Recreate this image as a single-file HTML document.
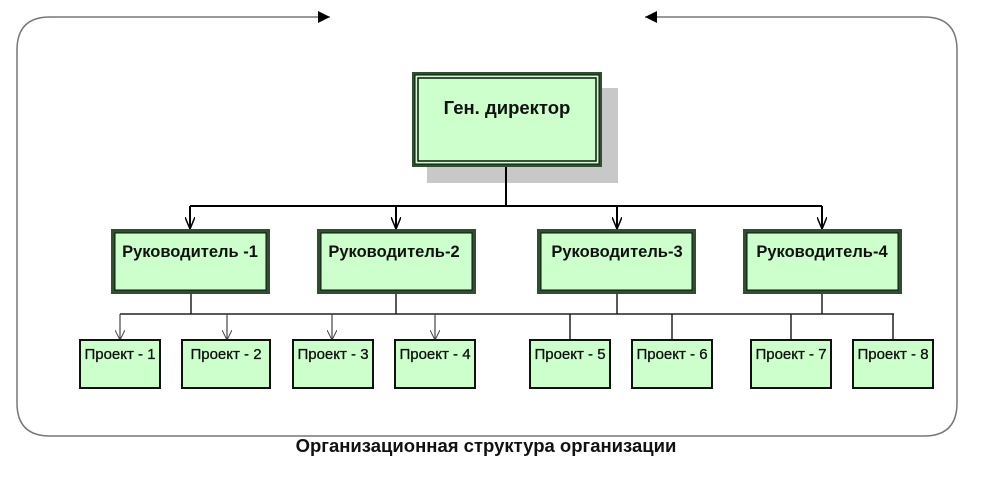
<!DOCTYPE html>
<html><head><meta charset="utf-8"><style>
html,body{margin:0;padding:0;background:#fff;}
svg{display:block;}
text{font-family:"Liberation Sans",sans-serif;font-weight:bold;fill:#111;}
</style></head><body>
<svg width="1000" height="479" viewBox="0 0 1000 479" xmlns="http://www.w3.org/2000/svg">
<defs>
<marker id="oa" markerWidth="14" markerHeight="10" refX="12" refY="5" orient="auto" markerUnits="userSpaceOnUse"><path d="M0,0 L12,5 L0,10" fill="none" stroke="#000" stroke-width="1.5"/></marker>
<marker id="oa2" markerWidth="12" markerHeight="10" refX="10" refY="5" orient="auto" markerUnits="userSpaceOnUse"><path d="M0,0 L10,5 L0,10" fill="none" stroke="#444" stroke-width="1"/></marker>
</defs>
<path d="M330,17 L50,17 Q17,17 17,50 L17,403 Q17,436 50,436 L924,436 Q957,436 957,403 L957,50 Q957,17 924,17 L645,17" fill="none" stroke="#777" stroke-width="1.5"/>
<path d="M318,11 L330,17 L318,23 z" fill="#000"/>
<path d="M657,11 L645,17 L657,23 z" fill="#000"/>
<rect x="427" y="88" width="191" height="95" fill="#c8c8c8"/>
<rect x="412" y="72" width="190" height="95" fill="#2f4f2f"/>
<rect x="415" y="75" width="184" height="89" fill="#ccffcc" stroke="#111" stroke-width="1"/>
<rect x="418" y="78" width="178" height="83" fill="#ccffcc" stroke="#111" stroke-width="1.5"/>
<text x="507" y="114" font-size="18.5" text-anchor="middle">Ген. директор</text>
<g stroke="#000" stroke-width="2" fill="none">
<path d="M506,167 L506,206"/>
<path d="M190,206 L822,206"/>
<path d="M190,206 L190,229" marker-end="url(#oa)"/>
<path d="M396,206 L396,229" marker-end="url(#oa)"/>
<path d="M617,206 L617,229" marker-end="url(#oa)"/>
<path d="M822,206 L822,229" marker-end="url(#oa)"/>
</g>
<g>
<rect x="111" y="229" width="159" height="65" fill="#2f4f2f"/><rect x="115" y="233" width="151" height="57" fill="#ccffcc" stroke="#111"/>
<rect x="317" y="229" width="159" height="65" fill="#2f4f2f"/><rect x="321" y="233" width="151" height="57" fill="#ccffcc" stroke="#111"/>
<rect x="537" y="229" width="159" height="65" fill="#2f4f2f"/><rect x="541" y="233" width="151" height="57" fill="#ccffcc" stroke="#111"/>
<rect x="743" y="229" width="159" height="65" fill="#2f4f2f"/><rect x="747" y="233" width="151" height="57" fill="#ccffcc" stroke="#111"/>
</g>
<g font-size="16.5">
<text x="190" y="257" text-anchor="middle">Руководитель -1</text>
<text x="394" y="257" text-anchor="middle">Руководитель-2</text>
<text x="617" y="257" text-anchor="middle">Руководитель-3</text>
<text x="822" y="257" text-anchor="middle">Руководитель-4</text>
</g>
<g stroke="#222" stroke-width="1.5" fill="none">
<path d="M191,294 L191,314 M396,294 L396,314 M617,294 L617,314 M822,294 L822,314"/>
<path d="M120,314 L894,314"/>
<path d="M570,314 L570,340 M672,314 L672,340 M791,314 L791,340 M893,314 L893,340"/>
</g>
<g stroke="#444" stroke-width="1.2" fill="none">
<path d="M120,314 L120,340" marker-end="url(#oa2)"/>
<path d="M227,314 L227,340" marker-end="url(#oa2)"/>
<path d="M332,314 L332,340" marker-end="url(#oa2)"/>
<path d="M435,314 L435,340" marker-end="url(#oa2)"/>
</g>
<g fill="#ccffcc" stroke="#111" stroke-width="2">
<rect x="80" y="340" width="80" height="48"/>
<rect x="182" y="340" width="88" height="48"/>
<rect x="293" y="340" width="80" height="48"/>
<rect x="395" y="340" width="80" height="48"/>
<rect x="530" y="340" width="80" height="48"/>
<rect x="632" y="340" width="80" height="48"/>
<rect x="751" y="340" width="80" height="48"/>
<rect x="853" y="340" width="80" height="48"/>
</g>
<g font-size="15" style="font-weight:normal" stroke="#111" stroke-width="0.3">
<text x="120" y="359" text-anchor="middle" style="font-weight:normal">Проект - 1</text>
<text x="226" y="359" text-anchor="middle" style="font-weight:normal">Проект - 2</text>
<text x="333" y="359" text-anchor="middle" style="font-weight:normal">Проект - 3</text>
<text x="435" y="359" text-anchor="middle" style="font-weight:normal">Проект - 4</text>
<text x="570" y="359" text-anchor="middle" style="font-weight:normal">Проект - 5</text>
<text x="672" y="359" text-anchor="middle" style="font-weight:normal">Проект - 6</text>
<text x="791" y="359" text-anchor="middle" style="font-weight:normal">Проект - 7</text>
<text x="893" y="359" text-anchor="middle" style="font-weight:normal">Проект - 8</text>
</g>
<text x="486" y="452" font-size="18.5" text-anchor="middle">Организационная структура организации</text>
</svg>
</body></html>
